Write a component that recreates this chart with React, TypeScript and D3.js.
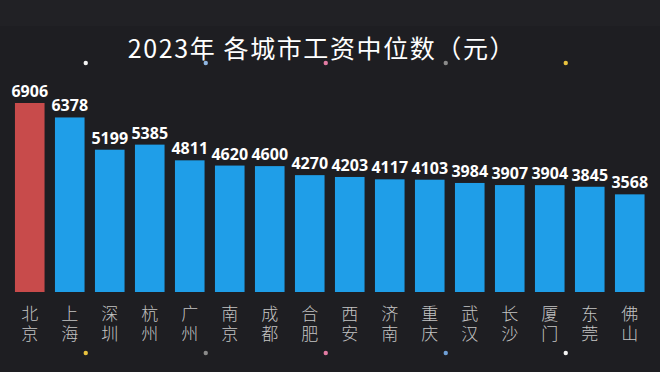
import React from 'react'
import * as d3 from 'd3'

const cities = ['北京', '上海', '深圳', '杭州', '广州', '南京', '成都', '合肥', '西安', '济南', '重庆', '武汉', '长沙', '厦门', '东莞', '佛山']
const wages = [6906, 6378, 5199, 5385, 4811, 4620, 4600, 4270, 4203, 4117, 4103, 3984, 3907, 3904, 3845, 3568]
const topDots = ['#f2f2f2', '#8fb6e2', '#e27ba3', '#8a8a8a', '#e8c23e']
const bottomDots = ['#e8c23e', '#8a8a8a', '#e27ba3', '#6f9fd6', '#f2f2f2']

const W = 660
const H = 372
const baseY = 292

export default function App() {
  const x = d3.scaleBand<string>().domain(cities).range([9.75, 649.75]).paddingInner(0.26).paddingOuter(0.13)
  const y = d3.scaleLinear().domain([0, 6906]).range([baseY, 103])
  const step = x.step()

  return (
    <svg width={W} height={H} style={{position: 'absolute', left: 0, top: 0}}>
      <rect width={W} height={H} fill="#1e1e22" />
      <rect width={W} height={26} fill="#212125" />
      <text x={322} y={58} textAnchor="middle" fill="#ffffff" fontSize={25}
        fontFamily="'Noto Sans CJK SC', 'Noto Sans', sans-serif" letterSpacing={1.6}>
        2023年 各城市工资中位数（元）
      </text>
      {topDots.map((c, i) => (
        <circle key={'t' + i} cx={9.75 + step * (2 + 3 * i) - 4} cy={63} r={2.2} fill={c} />
      ))}
      {bottomDots.map((c, i) => (
        <circle key={'b' + i} cx={9.75 + step * (2 + 3 * i) - 4} cy={353} r={2.2} fill={c} />
      ))}
      {cities.map((c, i) => {
        const bx = x(c) as number
        const cx = bx + x.bandwidth() / 2
        return (
          <g key={c}>
            <rect x={bx} y={y(wages[i])} width={x.bandwidth()} height={baseY - y(wages[i])}
              fill={i === 0 ? '#c84b4b' : '#1f9ee8'} />
            <text x={cx} y={y(wages[i]) - 6} textAnchor="middle" fill="#ffffff" fontSize={16}
              fontWeight="bold" fontFamily="'Open Sans', 'Noto Sans', sans-serif">
              {wages[i]}
            </text>
            <text x={cx} y={305} fill="#c4c4c4" fontSize={17} fontWeight={300} letterSpacing={3}
              style={{writingMode: 'vertical-rl'}}
              fontFamily="'Noto Sans CJK SC', sans-serif">
              {c}
            </text>
          </g>
        )
      })}
    </svg>
  )
}
